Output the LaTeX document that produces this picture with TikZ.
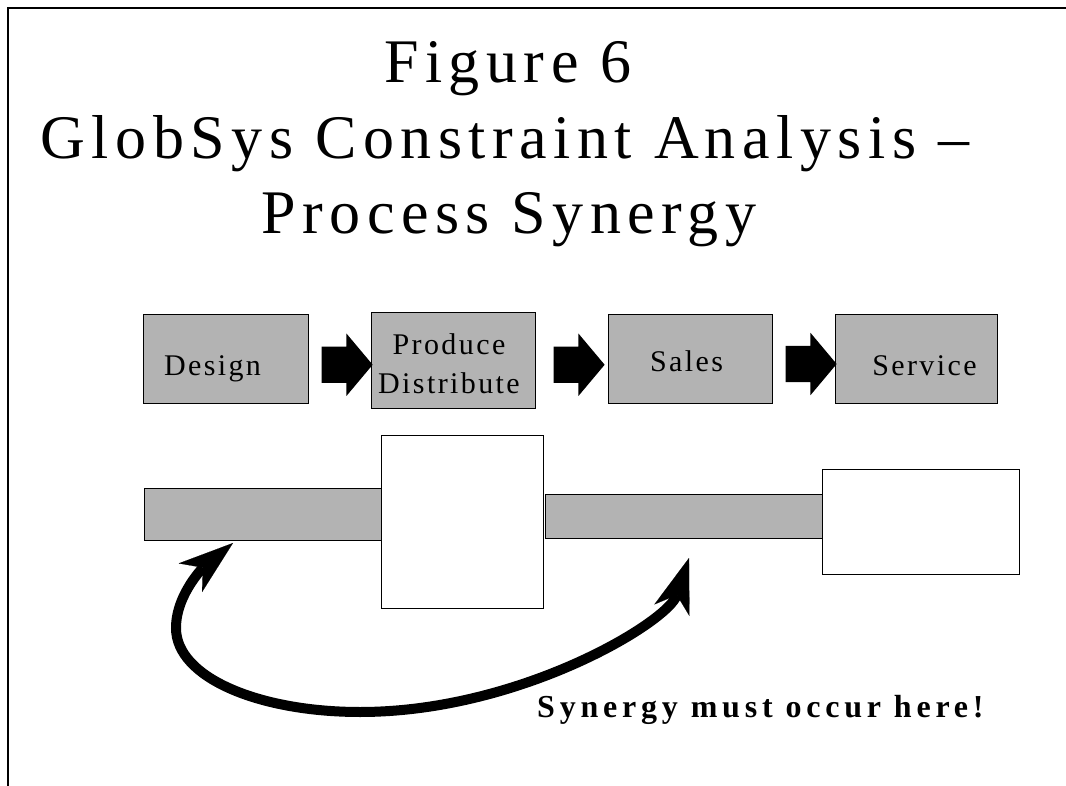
\documentclass[tikz,border=0pt]{standalone}
\usepackage{fontspec}
\setmainfont{Liberation Serif}
\newfontfamily\titlefont[LetterSpace=10.5]{Liberation Serif}
\newfontfamily\boxfont[LetterSpace=8]{Liberation Serif}
\newfontfamily\notefont[LetterSpace=15]{Liberation Serif}
\usetikzlibrary{arrows.meta,shapes.arrows,calc}
\definecolor{boxgray}{RGB}{179,179,179}
\tikzset{
  synhead/.tip={Stealth[length=55pt,width=37pt,inset=16pt,line width=0.1pt]},
}
\begin{document}
\begin{tikzpicture}[x=1pt,y=-1pt,
  frame/.style={line width=1.5pt, draw=black},
  titletext/.style={font=\titlefont\fontsize{62}{72}\selectfont, inner sep=0pt, anchor=base},
  boxtext/.style={font=\boxfont\fontsize{30}{36}\selectfont, inner sep=0pt, anchor=base},
  notetext/.style={font=\notefont\bfseries\fontsize{32}{38}\selectfont, inner sep=0pt, anchor=base west},
  procbox/.style={draw=black, line width=1pt, fill=boxgray, inner sep=0pt, outer sep=0pt},
  graybar/.style={draw=black, line width=1pt, fill=boxgray, inner sep=0pt, outer sep=0pt},
  whitebox/.style={draw=black, line width=1pt, fill=white, inner sep=0pt, outer sep=0pt},
  blockarrow/.style={single arrow, fill=black, draw=none,
    inner xsep=0pt, inner ysep=18pt, minimum height=51pt,
    single arrow head extend=13pt, single arrow tip angle=100},
  synergy/.style={line width=10pt, arrows={synhead-synhead}},
]
% page and frame
\useasboundingbox (0,0) rectangle (1066,786);
\fill[white] (0,0) rectangle (1066,786);
\coordinate (frameBL) at (8,786);
\coordinate (frameTL) at (8,8);
\coordinate (frameTR) at (1066,8);
\draw[frame] (frameBL) -- (frameTL) -- (frameTR);

% title
\node[titletext] (title1) at (508,83) {Figure 6};
\node[titletext] (title2) at (505,159) {GlobSys Constraint A\hspace{6pt}nalysis –};
\node[titletext] (title3) at (509,234) {Process Synergy};

% process chain
\node[procbox, minimum width=165pt, minimum height=88pt] (design)  at (225.5,359) {};
\node[procbox, minimum width=164pt, minimum height=95pt] (produce) at (453,360.5) {};
\node[procbox, minimum width=164pt, minimum height=88pt] (sales)   at (690,359) {};
\node[procbox, minimum width=162pt, minimum height=88pt] (service) at (916,359) {};

\node[boxtext] (designlbl)  at (212.5,375) {Design};
\node[boxtext] (producelbl) at (449,355) {Produce};
\node[boxtext] (distriblbl) at (449,393) {Distribute};
\node[boxtext] (saleslbl)   at (686.5,372) {Sales};
\node[boxtext] (servicelbl) at (924.5,375) {Service};

\node[blockarrow] (step1) at ($(design.east)!0.5!(produce.west)+(0,5)$) {};
\node[blockarrow] (step2) at ($(produce.east)!0.5!(sales.west)+(0,5)$) {};
\node[blockarrow] (step3) at ($(sales.east)!0.5!(service.west)+(0,5)$) {};

% constraint profile
\node[graybar,  minimum width=237pt, minimum height=52pt]  (barL) at (262.5,514) {};
\node[graybar,  minimum width=277pt, minimum height=44pt]  (barR) at (683.5,516) {};
\node[whitebox, minimum width=162pt, minimum height=173pt] (boxA) at (462,521.5) {};
\node[whitebox, minimum width=197pt, minimum height=105pt] (boxB) at (920.5,521.5) {};

% synergy link between the two bars
\coordinate (tipL) at (233,543);
\coordinate (tipR) at (689,558);
\draw[synergy] (tipL) .. controls (206,565) and (176,593) .. (176,628)
  .. controls (176,678) and (260,712) .. (360,712)
  .. controls (520,712) and (668,622) .. (tipR);

\node[notetext] (note) at (537,717) {Synergy must occur here!};
\end{tikzpicture}
\end{document}
